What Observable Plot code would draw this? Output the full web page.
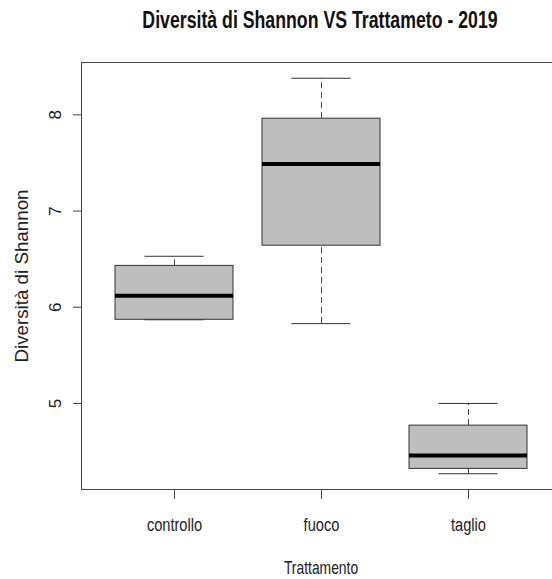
<!DOCTYPE html>
<html>
<head>
<meta charset="utf-8">
<script src="https://cdn.jsdelivr.net/npm/d3@7"></script>
<script src="https://cdn.jsdelivr.net/npm/@observablehq/plot@0.6"></script>
<style>
  html, body { margin: 0; padding: 0; background: #fff; overflow: hidden; }
  #wrap { width: 552px; height: 579px; overflow: hidden; position: relative; }
  #title { height: 40px; position: relative; }
  #title span {
    position: absolute; top: 7px; left: 0; width: 640px; text-align: center;
    font-family: "Liberation Sans", Arial, sans-serif;
    font-weight: bold; font-size: 23px; color: #111; white-space: nowrap;
    transform: scaleX(0.77); transform-origin: 320px 50%;
  }
  #chart { width: 552px; overflow: hidden; }
</style>
</head>
<body>
<div id="wrap">
  <div id="title"><span>Diversità di Shannon VS Trattameto - 2019</span></div>
  <div id="chart"></div>
</div>
<script>
const categories = ["controllo", "fuoco", "taglio"];
const lowerWhisker = [5.87, 5.83, 4.27];
const q1 = [5.87, 6.64, 4.32];
const median = [6.12, 7.49, 4.46];
const q3 = [6.43, 7.96, 4.77];
const upperWhisker = [6.53, 8.38, 5.00];
const yTicks = [5, 6, 7, 8];
const xLabel = "Trattamento";
const yLabel = "Diversità di Shannon";

const rows = categories.map((c, i) => ({
  cat: c, lo: lowerWhisker[i], q1: q1[i], med: median[i], q3: q3[i], hi: upperWhisker[i]
}));

const font = '"Liberation Sans", Arial, sans-serif';
const step = 479 / 3.2475;
const capInset = step * 0.2;

const chart = Plot.plot({
  width: 560,
  height: 539,
  marginLeft: 81,
  marginRight: 0,
  marginTop: 22,
  marginBottom: 90,
  style: { maxWidth: "none", background: "#fff", overflow: "visible" },
  x: { type: "band", domain: categories, paddingInner: 0.2, paddingOuter: 0.2237, axis: null },
  y: { domain: [4.106, 8.544], axis: null },
  marks: [
    Plot.frame({ stroke: "#444" }),
    Plot.axisY({ ticks: yTicks, tickSize: 8, tickFormat: () => "", label: null, stroke: "#444" }),
    Plot.axisX({ tickSize: 10, tickFormat: () => "", label: null, stroke: "#444" }),
    Plot.text(yTicks, { y: d => d, text: d => String(d), frameAnchor: "left", dx: -26, rotate: -90,
      textAnchor: "middle", lineAnchor: "middle", fontSize: 17, fontFamily: font, fill: "#222" }),
    Plot.text(categories, { x: d => d, text: d => d, frameAnchor: "bottom", dy: 35.6,
      lineAnchor: "middle", fontSize: 19, fontFamily: font, fill: "#222" }),
    Plot.text([xLabel], { text: d => d, frameAnchor: "bottom", dy: 78.5, lineAnchor: "middle",
      fontSize: 19, fontFamily: font, fill: "#222" }),
    Plot.text([yLabel], { text: d => d, frameAnchor: "left", dx: -60, rotate: -90,
      textAnchor: "middle", lineAnchor: "middle", fontSize: 18.75, fontFamily: font, fill: "#222" }),
    Plot.ruleX(rows, { x: "cat", y1: "q3", y2: "hi", stroke: "#444", strokeDasharray: "6,4" }),
    Plot.ruleX(rows, { x: "cat", y1: "lo", y2: "q1", stroke: "#444", strokeDasharray: "6,4" }),
    Plot.tickY(rows, { x: "cat", y: "hi", insetLeft: capInset, insetRight: capInset, stroke: "#333" }),
    Plot.tickY(rows, { x: "cat", y: "lo", insetLeft: capInset, insetRight: capInset, stroke: "#333" }),
    Plot.barY(rows, { x: "cat", y1: "q1", y2: "q3", fill: "#bebebe", stroke: "#333", strokeWidth: 1 }),
    Plot.tickY(rows, { x: "cat", y: "med", stroke: "#000", strokeWidth: 4 })
  ]
});

// Horizontal squeeze of the horizontal texts to match the condensed look of the reference
const textGroups = chart.querySelectorAll('g[aria-label="text"]');
const squeeze = [null, 0.77, 0.73, null];
textGroups.forEach((g, k) => {
  const s = squeeze[k];
  if (!s) return;
  g.querySelectorAll("text").forEach(t => {
    let tr = t.getAttribute("transform");
    if (!tr) {
      const x = +(t.getAttribute("x") || 0), y = +(t.getAttribute("y") || 0);
      t.removeAttribute("x"); t.removeAttribute("y");
      tr = `translate(${x},${y})`;
    }
    t.setAttribute("transform", `${tr} scale(${s},1)`);
  });
});

document.getElementById("chart").appendChild(chart);
</script>
</body>
</html>
